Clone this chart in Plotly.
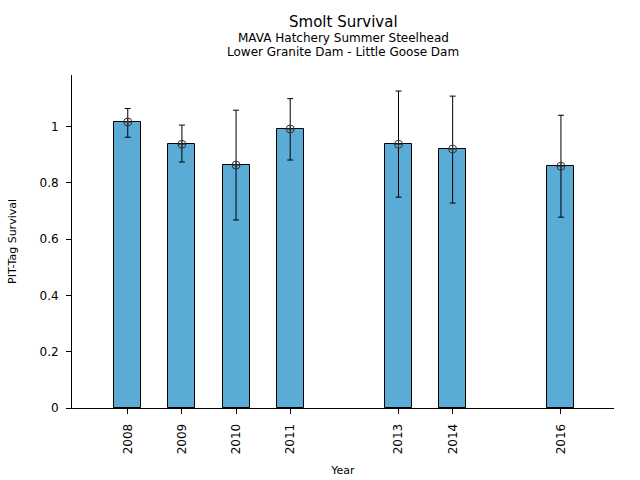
import plotly.graph_objects as go

years = [2008, 2009, 2010, 2011, 2013, 2014, 2016]
survival = [1.016, 0.937, 0.863, 0.991, 0.937, 0.920, 0.859]
upper = [1.064, 1.005, 1.058, 1.099, 1.126, 1.108, 1.040]
lower = [0.962, 0.874, 0.668, 0.881, 0.749, 0.728, 0.678]
y_ticks = [0, 0.2, 0.4, 0.6, 0.8, 1.0]
y_tick_labels = ["0", "0.2", "0.4", "0.6", "0.8", "1"]

err_plus = [u - s for u, s in zip(upper, survival)]
err_minus = [s - l for s, l in zip(survival, lower)]

fig = go.Figure()
fig.add_trace(go.Bar(
    x=years, y=survival, width=0.5,
    marker=dict(color="#5aacd6", line=dict(color="black", width=1)),
    error_y=dict(type="data", symmetric=False, array=err_plus, arrayminus=err_minus,
                 color="black", thickness=1, width=3),
    showlegend=False,
))
fig.add_trace(go.Scatter(
    x=years, y=survival, mode="markers",
    marker=dict(symbol="circle-cross-open", size=8, color="#333333", line=dict(width=1)),
    showlegend=False,
))

font = "DejaVu Sans"
fig.update_layout(
    width=640, height=480,
    margin=dict(l=72, r=26, t=75, b=72),
    paper_bgcolor="white", plot_bgcolor="white",
    font=dict(family=font, size=11, color="black"),
    bargap=0,
    xaxis=dict(
        range=[2006.97, 2016.98], tickmode="array", tickvals=years,
        ticktext=[str(y) for y in years], tickangle=-90,
        tickfont=dict(size=12), ticklabelstandoff=5, automargin=False,
        showline=True, linecolor="black", linewidth=1,
        ticks="outside", ticklen=5, tickcolor="black", showgrid=False, zeroline=False,
        title=dict(text="Year", font=dict(size=11), standoff=12),
    ),
    yaxis=dict(
        range=[0, 1.183], tickmode="array", tickvals=y_ticks, ticktext=y_tick_labels,
        tickfont=dict(size=12), ticklabelstandoff=5, automargin=False,
        showline=True, linecolor="black", linewidth=1,
        ticks="outside", ticklen=5, tickcolor="black", showgrid=False, zeroline=False,
        title=dict(text="PIT-Tag Survival", font=dict(size=11), standoff=20),
    ),
    annotations=[
        dict(text="Smolt Survival", x=0.5, y=1.159, xref="paper", yref="paper",
             showarrow=False, yanchor="middle", font=dict(size=15)),
        dict(text="MAVA Hatchery Summer Steelhead", x=0.5, y=1.111, xref="paper", yref="paper",
             showarrow=False, yanchor="middle", font=dict(size=12)),
        dict(text="Lower Granite Dam - Little Goose Dam", x=0.5, y=1.069, xref="paper", yref="paper",
             showarrow=False, yanchor="middle", font=dict(size=12)),
    ],
)

fig.write_html("out.html", config={"displayModeBar": False},
               post_script="document.body.style.margin='0';")
